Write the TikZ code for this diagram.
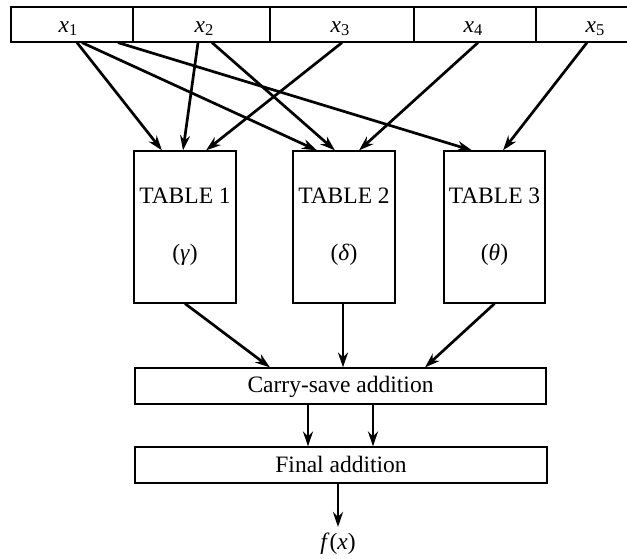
\documentclass[tikz,border=0pt]{standalone}
\usepackage{fontspec}
\setmainfont{Liberation Serif}
\usetikzlibrary{arrows.meta,calc}
\newcommand{\xvar}[1]{\textit{x}\kern0.3pt\raisebox{-0.35ex}{\fontsize{16.5}{16.5}\selectfont #1}}
\begin{document}
\begin{tikzpicture}[x=1pt,y=-1pt,
  every node/.style={font=\fontsize{23.5}{26}\selectfont},
  cell/.style={draw,line width=1.2pt,inner sep=0pt,minimum height=35pt,minimum width=#1},
  tablebox/.style={draw,line width=1.2pt,inner sep=0pt,minimum height=152pt,minimum width=#1},
  stage/.style={draw,line width=1.2pt,inner sep=0pt,minimum height=36pt,minimum width=#1},
  lbl/.style={anchor=base,inner sep=0pt},
  arr/.style={-{Stealth[length=15pt,width=10pt]},line width=2.7pt}]
\useasboundingbox (0,0) rectangle (627,558);

% input word split into five fields (the last runs off the right edge)
\begin{scope}
  \clip (0,0) rectangle (627,558);
  \node[cell=122] (c1) at (72,24.5) {};
  \node[cell=137] (c2) at (201.5,24.5) {};
  \node[cell=144] (c3) at (342,24.5) {};
  \node[cell=122] (c4) at (475,24.5) {};
  \node[cell=116] (c5) at (594,24.5) {};
\end{scope}
\node[lbl] at (68,32) {\xvar{1}};
\node[lbl] at (204,32) {\xvar{2}};
\node[lbl] at (340,32) {\xvar{3}};
\node[lbl] at (473,32) {\xvar{4}};
\node[lbl] at (595,32) {\xvar{5}};

% lookup tables
\node[tablebox=102] (t1) at (185,227) {};
\node[tablebox=102] (t2) at (344,227) {};
\node[tablebox=101] (t3) at (494.5,227) {};
\node[lbl] at (185,203) {TABLE 1};
\node[lbl] at (344,203) {TABLE 2};
\node[lbl] at (494.5,203) {TABLE 3};
\node[lbl] at (185,260) {(\textit{γ})};
\node[lbl] at (344,260) {(\textit{δ})};
\node[lbl] at (494.5,260) {(\textit{θ})};

% adder stages
\node[stage=411] (csa) at (340.5,386) {};
\node[lbl] at (340.5,392) {Carry-save addition};
\node[stage=412] (fin) at (341,465) {};
\node[lbl] at (341,472) {Final addition};

\coordinate (fend) at (338,527);
\node[lbl] (fx) at (338,549) {\textit{f}(\textit{x})};

% fields to tables
\draw[arr] ([xshift=5pt]c1.south)    -- ([xshift=-23pt]t1.north);
\draw[arr] ([xshift=10pt]c1.south)   -- ([xshift=-27pt]t2.north);
\draw[arr] ([xshift=46pt]c1.south)   -- ([xshift=-22.5pt]t3.north);
\draw[arr] ([xshift=-3.5pt]c2.south) -- ([xshift=-2pt]t1.north);
\draw[arr] ([xshift=10.5pt]c2.south) -- ([xshift=-9pt]t2.north);
\draw[arr] (c3.south)                -- ([xshift=21pt]t1.north);
\draw[arr] ([xshift=3pt]c4.south)    -- ([xshift=15pt]t2.north);
\draw[arr] ([xshift=-7pt]c5.south)   -- ([xshift=8.5pt]t3.north);

% tables to carry-save adder
\draw[arr] (t1.south) -- ([xshift=-70.5pt]csa.north);
\draw[arr] ([xshift=-1pt]t2.south) -- ([xshift=2.5pt]csa.north);
\draw[arr] (t3.south) -- ([xshift=84.5pt]csa.north);

% carry-save to final adder
\draw[arr] ([xshift=-32.5pt]csa.south) -- ([xshift=-33pt]fin.north);
\draw[arr] ([xshift=32.5pt]csa.south) -- ([xshift=32pt]fin.north);

% result
\draw[arr] ([xshift=-3pt]fin.south) -- (fend);
\end{tikzpicture}
\end{document}
